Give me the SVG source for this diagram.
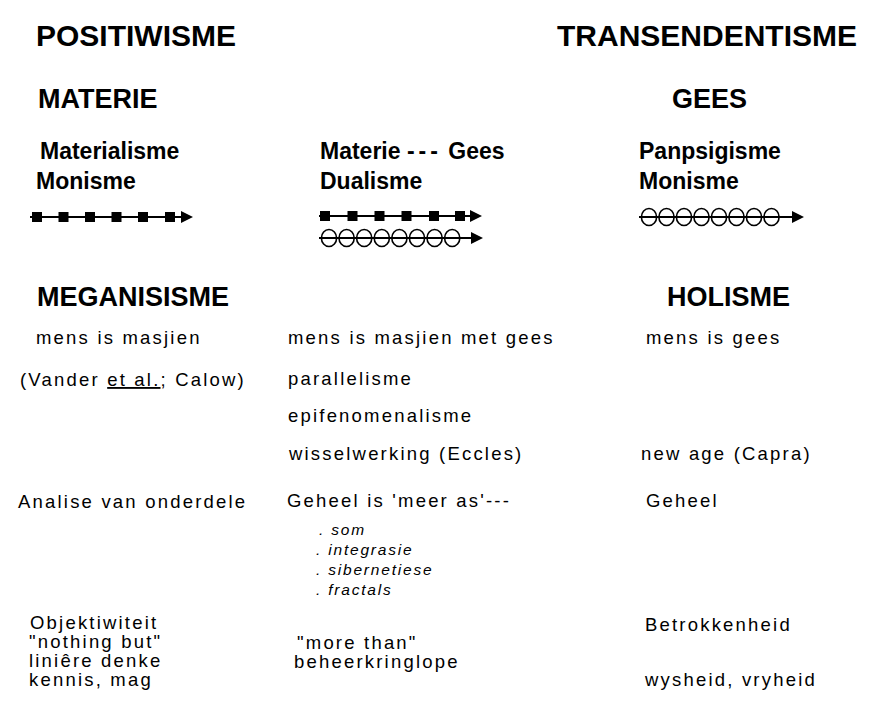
<svg xmlns="http://www.w3.org/2000/svg" width="871" height="713" viewBox="0 0 871 713">
<style>
text{font-family:"Liberation Sans",Arial,Helvetica,sans-serif;fill:#000}
.h1{font-weight:bold;font-size:30px}
.h2{font-weight:bold;font-size:27px}
.h3{font-weight:bold;font-size:23px}
.t{font-size:18.5px;letter-spacing:2.2px}
.i{font-size:15.5px;font-style:italic;letter-spacing:1.8px}
.ln{stroke:#000;stroke-width:2;fill:none}
.sq{fill:#000}
.ci{fill:none;stroke:#000;stroke-width:1.6}
.ah{fill:#000}
</style>
<rect width="871" height="713" fill="#fff"/>
<g id="positiwisme"><text class="h1" x="36" y="46">POSITIWISME</text></g>
<g id="transendentisme"><text class="h1" x="557" y="46">TRANSENDENTISME</text></g>
<g id="materie"><text class="h2" x="38" y="108">MATERIE</text></g>
<g id="gees"><text class="h2" x="672" y="108">GEES</text></g>
<g id="materialisme"><text class="h3" x="40" y="159">Materialisme</text><text class="h3" x="36" y="189">Monisme</text></g>
<g id="dualisme"><text class="h3" x="320" y="159">Materie <tspan letter-spacing="4">---</tspan> Gees</text><text class="h3" x="320" y="189">Dualisme</text></g>
<g id="panpsigisme"><text class="h3" x="639" y="159">Panpsigisme</text><text class="h3" x="639" y="189">Monisme</text></g>
<g id="connectors">
<g id="arrow-materie">
<line class="ln" x1="30" y1="217" x2="184" y2="217"/>
<rect class="sq" x="32" y="212" width="10" height="10"/>
<rect class="sq" x="58.5" y="212" width="10" height="10"/>
<rect class="sq" x="85" y="212" width="10" height="10"/>
<rect class="sq" x="111.5" y="212" width="10" height="10"/>
<rect class="sq" x="138" y="212" width="10" height="10"/>
<rect class="sq" x="165" y="212" width="10" height="10"/>
<polygon class="ah" points="181,211 193,217 181,223"/>
</g>
<g id="arrow-dual-materie">
<line class="ln" x1="319" y1="216" x2="472" y2="216"/>
<rect class="sq" x="320" y="211" width="10" height="10"/>
<rect class="sq" x="347.5" y="211" width="10" height="10"/>
<rect class="sq" x="374.5" y="211" width="10" height="10"/>
<rect class="sq" x="401.5" y="211" width="10" height="10"/>
<rect class="sq" x="429" y="211" width="10" height="10"/>
<rect class="sq" x="455" y="211" width="10" height="10"/>
<polygon class="ah" points="470,210 482,216 470,222"/>
</g>
<g id="arrow-dual-gees">
<line class="ln" x1="319" y1="238" x2="472" y2="238"/>
<ellipse class="ci" cx="329" cy="238" rx="7.6" ry="8.5"/>
<ellipse class="ci" cx="346.6" cy="238" rx="7.6" ry="8.5"/>
<ellipse class="ci" cx="364.2" cy="238" rx="7.6" ry="8.5"/>
<ellipse class="ci" cx="381.8" cy="238" rx="7.6" ry="8.5"/>
<ellipse class="ci" cx="399.4" cy="238" rx="7.6" ry="8.5"/>
<ellipse class="ci" cx="417" cy="238" rx="7.6" ry="8.5"/>
<ellipse class="ci" cx="434.6" cy="238" rx="7.6" ry="8.5"/>
<ellipse class="ci" cx="452.2" cy="238" rx="7.6" ry="8.5"/>
<polygon class="ah" points="471,232 483,238 471,244"/>
</g>
<g id="arrow-gees">
<line class="ln" x1="639" y1="217" x2="794" y2="217"/>
<ellipse class="ci" cx="649" cy="217" rx="7.6" ry="8.5"/>
<ellipse class="ci" cx="666.5" cy="217" rx="7.6" ry="8.5"/>
<ellipse class="ci" cx="684" cy="217" rx="7.6" ry="8.5"/>
<ellipse class="ci" cx="701.5" cy="217" rx="7.6" ry="8.5"/>
<ellipse class="ci" cx="719" cy="217" rx="7.6" ry="8.5"/>
<ellipse class="ci" cx="736.5" cy="217" rx="7.6" ry="8.5"/>
<ellipse class="ci" cx="754" cy="217" rx="7.6" ry="8.5"/>
<ellipse class="ci" cx="771.5" cy="217" rx="7.6" ry="8.5"/>
<polygon class="ah" points="792,211 804,217 792,223"/>
</g>
</g>
<g id="meganisisme"><text class="h2" x="37" y="306">MEGANISISME</text></g>
<g id="holisme"><text class="h2" x="667" y="306">HOLISME</text></g>
<g id="col-left">
<text class="t" x="36" y="344">mens is masjien</text>
<text class="t" x="20" y="386">(Vander <tspan text-decoration="underline">et al.</tspan>; Calow)</text>
<text class="t" x="18" y="508">Analise van onderdele</text>
<text class="t" x="30" y="629">Objektiwiteit</text>
<text class="t" x="29" y="648">"nothing but"</text>
<text class="t" x="29" y="667">liniêre denke</text>
<text class="t" x="29" y="686">kennis, mag</text>
</g>
<g id="col-middle">
<text class="t" x="288" y="344">mens is masjien met gees</text>
<text class="t" x="288" y="385">parallelisme</text>
<text class="t" x="288" y="422">epifenomenalisme</text>
<text class="t" x="289" y="460">wisselwerking (Eccles)</text>
<text class="t" x="287" y="507">Geheel is 'meer as'---</text>
<text class="i" x="319" y="535">. som</text>
<text class="i" x="316" y="555">. integrasie</text>
<text class="i" x="316" y="575">. sibernetiese</text>
<text class="i" x="316" y="595">. fractals</text>
<text class="t" x="297" y="649">"more than"</text>
<text class="t" x="294" y="668">beheerkringlope</text>
</g>
<g id="col-right">
<text class="t" x="646" y="344">mens is gees</text>
<text class="t" x="641" y="460">new age (Capra)</text>
<text class="t" x="646" y="507">Geheel</text>
<text class="t" x="645" y="631">Betrokkenheid</text>
<text class="t" x="645" y="686">wysheid, vryheid</text>
</g>
</svg>
